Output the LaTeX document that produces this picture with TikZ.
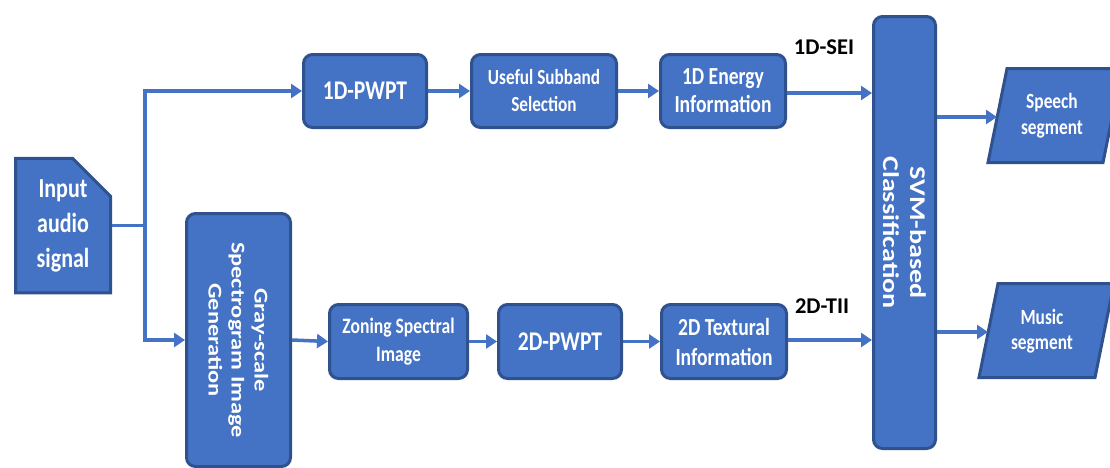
\documentclass[tikz,border=0pt]{standalone}
\usepackage{fontspec}
\setmainfont{Carlito}
\newfontfamily\hf[FakeStretch=0.8]{Carlito}
\newfontfamily\vf[FakeStretch=1.25]{Carlito}
\usetikzlibrary{arrows.meta,shapes.misc}
\definecolor{boxfill}{HTML}{4472C4}
\definecolor{boxline}{HTML}{2F528F}
\tikzset{
  blk/.style={draw=boxline, fill=boxfill, line width=3pt, rounded corners=9pt,
    text=white, align=center, inner sep=0pt},
  flow/.style={draw=boxfill, line width=3.5pt,
    -{Triangle[length=11pt,width=14pt]}},
  plainline/.style={draw=boxfill, line width=3.5pt},
  lbl/.style={font=\bfseries\fontsize{22.5}{24}\selectfont, text=black, inner sep=0pt},
  hsz/.style n args={2}{font=\hf\bfseries\fontsize{#1}{#2}\selectfont},
  vsz/.style n args={2}{font=\vf\bfseries\fontsize{#1}{#2}\selectfont},
}
\begin{document}
\begin{tikzpicture}[x=1pt,y=-1pt]
\useasboundingbox (0,0) rectangle (1110,467);

% input
\node[draw=boxline, fill=boxfill, line width=3pt, chamfered rectangle,
  chamfered rectangle corners=north east, chamfered rectangle xsep=17pt,
  chamfered rectangle ysep=21pt, minimum width=95pt, minimum height=126pt,
  inner sep=0pt, text=white, align=center, hsz={27.5}{35}]
  (input) at (63,225.5) {Input\\audio\\signal};

% top row
\node[blk, minimum width=123pt, minimum height=73pt, hsz={27}{30}] (pwpt1) at (365,91) {1D-PWPT};
\node[blk, minimum width=145pt, minimum height=73pt, hsz={21.5}{27}] (useful) at (544,91) {Useful Subband\\Selection};
\node[blk, minimum width=125pt, minimum height=73pt, hsz={24.5}{28}] (energy) at (723,91) {1D Energy\\Information};

% gray-scale
\node[blk, minimum width=104pt, minimum height=253pt] (gray) at (238.5,340) {};
\node[rotate=-90, text=white, align=center, vsz={19.5}{23}] (graytxt) at (gray.center) {Gray-scale\\Spectrogram Image\\Generation};

% bottom row
\node[blk, minimum width=138pt, minimum height=74pt, hsz={22}{28}] (zoning) at (398.5,341.5) {Zoning Spectral\\Image};
\node[blk, minimum width=123pt, minimum height=74pt, hsz={27}{30}] (pwpt2) at (560,341.5) {2D-PWPT};
\node[blk, minimum width=125pt, minimum height=74pt, hsz={24.5}{30}] (textural) at (724,341.5) {2D Textural\\Information};

% SVM
\node[blk, minimum width=62pt, minimum height=432pt] (svm) at (904.5,232.5) {};
\node[rotate=-90, text=white, align=center, vsz={22.5}{27}] (svmtxt) at (svm.center) {SVM-based\\Classification};

% outputs (parallelograms)
\draw[draw=boxline, fill=boxfill, line width=3pt, line join=miter]
  (988,162.5) -- (1007,68.5) -- (1122,68.5) -- (1103,162.5) -- cycle;
\node[text=white, align=center, hsz={21.7}{26}] (speech) at (1052,116) {Speech\\segment};
\draw[draw=boxline, fill=boxfill, line width=3pt, line join=miter]
  (979,377.5) -- (998,283.5) -- (1114,283.5) -- (1095,377.5) -- cycle;
\node[text=white, align=center, hsz={21.7}{25}] (music) at (1042,331) {Music\\segment};
\coordinate (speechin) at (997,117);
\coordinate (musicin) at (988,332);

% labels
\node[lbl] (sei) at (824,47) {1D-SEI};
\node[lbl] (tii) at (822,306) {2D-TII};

% connectors
\coordinate (split) at (145,225.5);
\draw[plainline] (input.east |- split) -- (split);
\draw[flow] (split) |- (pwpt1.west);
\draw[flow] (split) |- (gray.west);
\draw[flow] (pwpt1.east) -- (useful.west);
\draw[flow] (useful.east) -- (energy.west);
\draw[flow] ([yshift=-2pt]energy.east) -- ([yshift=-2pt]energy.east -| svm.west);
\draw[flow] (gray.east) -- (zoning.west);
\draw[flow] (zoning.east) -- (pwpt2.west);
\draw[flow] (pwpt2.east) -- (textural.west);
\draw[flow] ([yshift=1.5pt]textural.east) -- ([yshift=1.5pt]textural.east -| svm.west);
\draw[flow] (svm.east |- speechin) -- (speechin);
\draw[flow] (svm.east |- musicin) -- (musicin);
\end{tikzpicture}
\end{document}
